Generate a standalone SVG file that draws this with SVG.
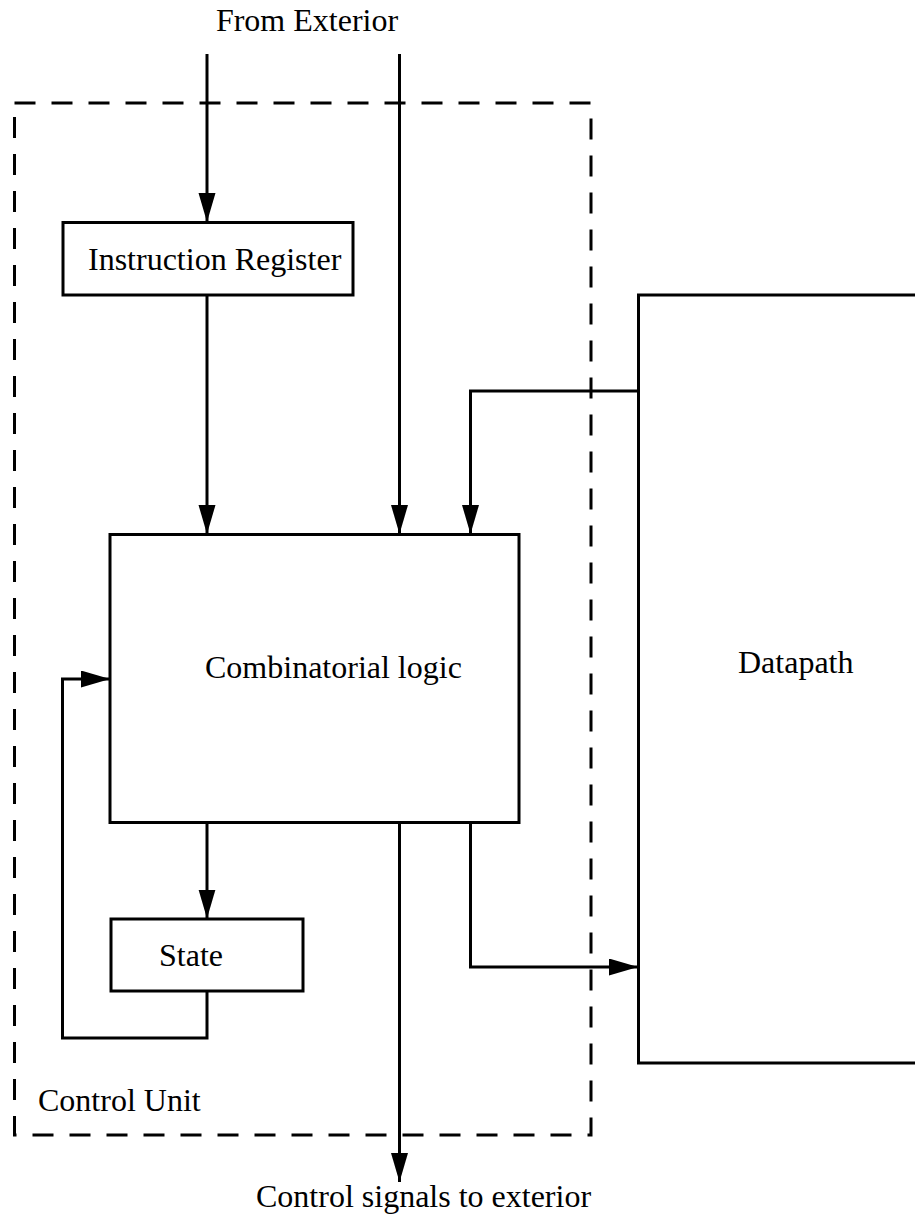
<svg xmlns="http://www.w3.org/2000/svg" width="915" height="1217" viewBox="0 0 915 1217">
<style>
.box{fill:#fff;stroke:#000;stroke-width:3}
.ln{fill:none;stroke:#000;stroke-width:3}
.dash{fill:none;stroke:#000;stroke-width:3;stroke-dasharray:21 16}
text{font-family:"Liberation Serif","Times New Roman",serif;font-size:32px;fill:#000}
</style>
<defs>
<marker id="arr" markerUnits="userSpaceOnUse" markerWidth="30" markerHeight="18" refX="29" refY="8.5" orient="auto">
<path d="M0,0 L29,8.5 L0,17 z" fill="#000"/>
</marker>
</defs>
<g id="control-unit">
<rect class="dash" x="14.5" y="103" width="576.5" height="1032"/>
<text x="38" y="1111">Control Unit</text>
</g>
<g id="datapath">
<path class="ln" d="M915,295 H638.5 V1063 H915"/>
<text x="738" y="673">Datapath</text>
</g>
<g id="instruction-register">
<rect class="box" x="63" y="222.5" width="290" height="72.5"/>
<text x="88" y="270">Instruction Register</text>
</g>
<g id="combinatorial-logic">
<rect class="box" x="110" y="534.5" width="409" height="288"/>
<text x="205" y="678">Combinatorial logic</text>
</g>
<g id="state">
<rect class="box" x="111" y="919" width="192" height="72"/>
<text x="159" y="966">State</text>
</g>
<g id="connectors">
<line class="ln" x1="207" y1="54" x2="207" y2="222" marker-end="url(#arr)"/>
<line class="ln" x1="399.5" y1="54" x2="399.5" y2="534" marker-end="url(#arr)"/>
<line class="ln" x1="207" y1="295" x2="207" y2="534" marker-end="url(#arr)"/>
<polyline class="ln" points="638.5,391 470.5,391 470.5,534" marker-end="url(#arr)"/>
<line class="ln" x1="207" y1="822.5" x2="207" y2="918.5" marker-end="url(#arr)"/>
<polyline class="ln" points="207,991 207,1038 62.5,1038 62.5,679 110,679" marker-end="url(#arr)"/>
<line class="ln" x1="399.5" y1="822.5" x2="399.5" y2="1182" marker-end="url(#arr)"/>
<polyline class="ln" points="470.5,822.5 470.5,967 638,967" marker-end="url(#arr)"/>
</g>
<text x="307" y="31" text-anchor="middle">From Exterior</text>
<text x="256" y="1207">Control signals to exterior</text>
</svg>
